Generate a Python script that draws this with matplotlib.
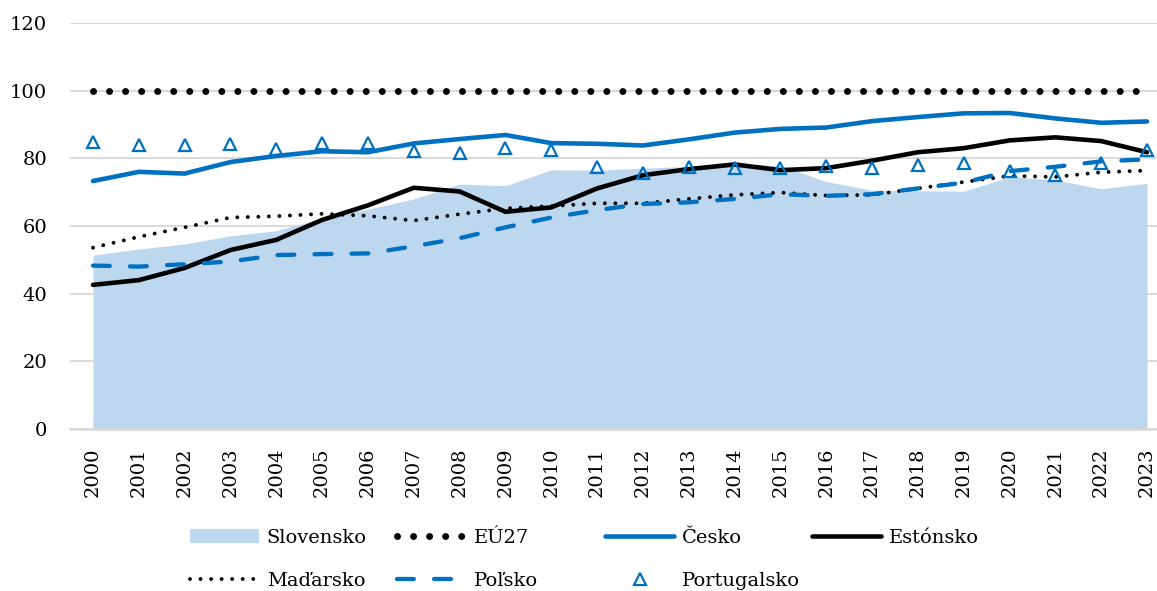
import matplotlib
matplotlib.use("Agg")
import matplotlib.pyplot as plt

years = list(range(2000, 2024))

slovensko = [51.4, 53.2, 54.7, 57.1, 58.6, 62.3, 65.0, 68.0, 72.4, 71.9, 76.6, 76.5,
             77.1, 77.6, 78.2, 77.9, 73.1, 70.6, 70.4, 70.3, 74.5, 73.6, 71.0, 72.6]
eu27 = [100, 100, 100, 100, 100, 100, 100, 100, 100, 100, 100, 100,
        100, 100, 100, 100, 100, 100, 100, 100, 100, 100, 100, 100]
cesko = [73.3, 76.0, 75.5, 78.9, 80.7, 82.1, 81.8, 84.4, 85.7, 86.9, 84.5, 84.3,
         83.8, 85.6, 87.6, 88.7, 89.1, 91.0, 92.2, 93.3, 93.4, 91.8, 90.5, 90.9]
estonsko = [42.6, 44.0, 47.6, 52.9, 55.9, 61.8, 66.1, 71.3, 70.2, 64.2, 65.5, 71.1,
            75.0, 76.8, 78.2, 76.5, 77.1, 79.3, 81.8, 83.0, 85.3, 86.2, 85.1, 81.8]
madarsko = [53.6, 56.8, 59.6, 62.5, 62.9, 63.6, 63.0, 61.6, 63.5, 65.2, 65.9, 66.7,
            66.7, 68.0, 69.2, 69.9, 69.0, 69.2, 71.1, 73.0, 74.8, 74.5, 75.9, 76.4]
polsko = [48.3, 48.0, 48.7, 49.5, 51.4, 51.7, 51.9, 54.0, 56.4, 59.6, 62.5, 64.7,
          66.5, 67.0, 68.0, 69.4, 68.9, 69.4, 71.1, 72.8, 76.2, 77.5, 79.1, 79.7]
portugalsko = [84.9, 84.0, 83.8, 84.2, 82.7, 84.4, 84.4, 82.3, 81.7, 83.0, 82.5, 77.5,
               75.7, 77.3, 77.2, 77.2, 77.6, 77.2, 78.1, 78.5, 76.2, 75.1, 78.6, 82.5]

yticks = [0, 20, 40, 60, 80, 100, 120]

blue = "#0070C0"
light_blue = "#BDD7EE"

plt.rcParams["font.family"] = ["DejaVu Serif"]

W, H = 1157, 591
fig = plt.figure(figsize=(W / 100, H / 100), dpi=100)
ax = fig.add_axes([70 / W, 1 - 429 / H, (W - 70) / W, (429 - 23) / H])

sk = ax.fill_between(years, slovensko, 0, color=light_blue, lw=0, zorder=1, label="Slovensko")
eu, = ax.plot(years, eu27, color="black", lw=5, linestyle=(0, (0.01, 2.3)),
              dash_capstyle="round", zorder=2, label="EÚ27")
cz, = ax.plot(years, cesko, color=blue, lw=3.3, solid_capstyle="round", zorder=3, label="Česko")
ee, = ax.plot(years, estonsko, color="black", lw=3.3, solid_capstyle="round", zorder=4, label="Estónsko")
hu, = ax.plot(years, madarsko, color="black", lw=2.8, linestyle=(0, (0.01, 2.7)),
              dash_capstyle="round", zorder=5, label="Maďarsko")
pl, = ax.plot(years, polsko, color=blue, lw=3.1, linestyle=(0, (3.9, 4.7)),
              dash_capstyle="round", zorder=6, label="Poľsko")
pt, = ax.plot(years, portugalsko, linestyle="none", marker="^", markersize=9,
              mfc="none", mec=blue, mew=1.6, zorder=7, label="Portugalsko")

ax.set_xlim(2000 - 23 / 45.83, 2023 + 10 / 45.83)
ax.set_ylim(0, 120)
ax.set_yticks(yticks)
ax.set_xticks(years)
ax.set_xticklabels([str(y) for y in years], rotation=90)
ax.tick_params(axis="y", length=0, pad=16.5, labelsize=14)
ax.tick_params(axis="x", length=0, pad=13, labelsize=14)
ax.set_axisbelow(True)
ax.grid(axis="y", color="#d9d9d9", lw=1.4)
for side in ["top", "right", "left"]:
    ax.spines[side].set_visible(False)
ax.spines["bottom"].set_color("#d9d9d9")
ax.spines["bottom"].set_linewidth(1.8)

# legend: four separate columns to match the fixed grid of the original
top = 1 - 529 / H
columns = [(190, [sk, hu]), (397, [eu, pl]), (605, [cz, pt]), (812, [ee])]
for x, handles in columns:
    leg = fig.legend(handles=handles, labels=[h.get_label() for h in handles],
                     loc="upper left", bbox_to_anchor=(x / W, top),
                     bbox_transform=fig.transFigure, frameon=False, borderpad=0,
                     borderaxespad=0, handlelength=3.55, handletextpad=0.4,
                     labelspacing=1.26, fontsize=14, numpoints=1)

fig.savefig("out.png", dpi=100)
